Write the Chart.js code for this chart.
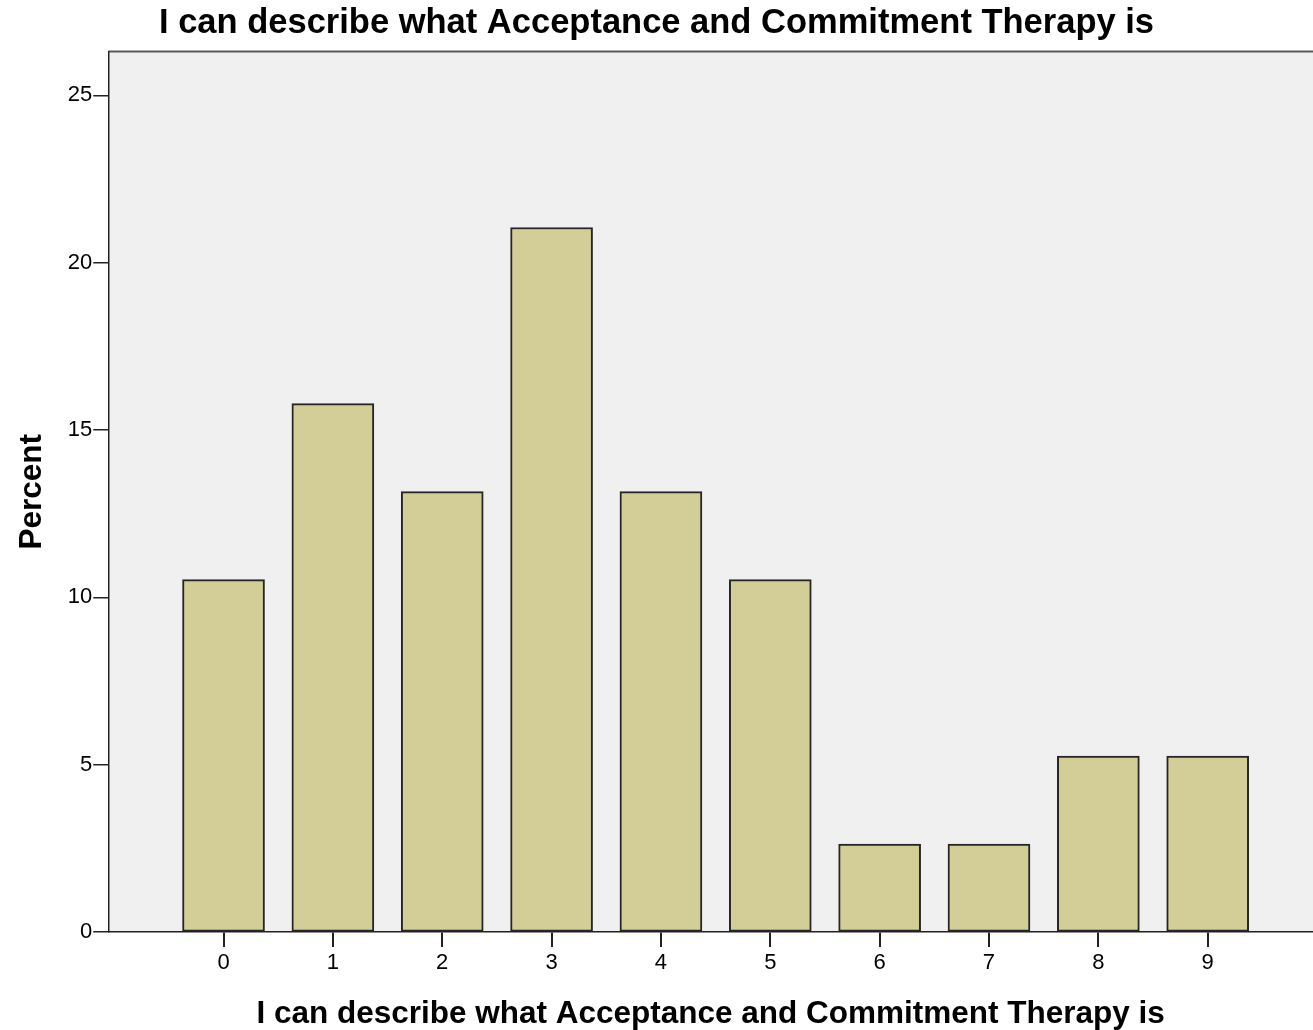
<!DOCTYPE html>
<html>
<head>
<meta charset="utf-8">
<script src="https://cdn.jsdelivr.net/npm/chart.js@4.4.1/dist/chart.umd.min.js"></script>
<style>
  html, body { margin: 0; padding: 0; background: #fff; }
  #wrap { width: 1313px; height: 1030px; }
</style>
</head>
<body>
<div id="wrap"><canvas id="chart"></canvas></div>
<script>
// Histogram-style bar chart: percent per response score
const TITLE = "I can describe what Acceptance and Commitment Therapy is";
const categories = [0, 1, 2, 3, 4, 5, 6, 7, 8, 9];
const percents = [10.53, 15.79, 13.16, 21.05, 13.16, 10.53, 2.63, 2.63, 5.26, 5.26];
const yTicks = [0, 5, 10, 15, 20, 25];

const FONT = "'Liberation Sans', Arial, sans-serif";

// plot background + top frame line
const frame = {
  id: "frame",
  beforeDraw(chart) {
    const { ctx, chartArea: a } = chart;
    ctx.save();
    ctx.fillStyle = "#f0f0f0";
    ctx.fillRect(a.left, a.top, a.right - a.left, a.bottom - a.top);
    ctx.strokeStyle = "#5a5a5a";
    ctx.lineWidth = 2;
    ctx.beginPath();
    ctx.moveTo(a.left, a.top);
    ctx.lineTo(a.right, a.top);
    ctx.stroke();
    ctx.restore();
  },
};

new Chart(document.getElementById("chart"), {
  type: "bar",
  data: {
    datasets: [{
      data: categories.map((c, i) => ({ x: c, y: percents[i] })),
      backgroundColor: "#d3ce97",
      borderColor: "#262626",
      borderWidth: 2,
      borderSkipped: false,
      barThickness: 82,
    }],
  },
  options: {
    responsive: true, maintainAspectRatio: false, animation: false,
    layout: { padding: 0 },
    plugins: {
      legend: { display: false },
      tooltip: { enabled: false },
      title: {
        display: true, text: TITLE, color: "#000",
        font: { family: FONT, size: 34.5, weight: "bold" },
        padding: { top: 3, bottom: 7 },
      },
    },
    scales: {
      x: {
        type: "linear", min: -1.054, max: 9.963, offset: false,
        afterBuildTicks: (s) => { s.ticks = categories.map((v) => ({ value: v })); },
        grid: { display: true, offset: false, drawOnChartArea: false, drawTicks: true, tickLength: 15, color: "#222", lineWidth: 2 },
        border: { display: true, color: "#222", width: 1.5 },
        ticks: { color: "#000", padding: 3, font: { family: FONT, size: 22 }, maxRotation: 0, autoSkip: false },
        title: {
          display: true, text: TITLE, color: "#000",
          font: { family: FONT, size: 31.5, weight: "bold", lineHeight: 1 },
          padding: { top: 19, bottom: 0 },
        },
      },
      y: {
        min: 0, max: 26.31,
        afterBuildTicks: (s) => { s.ticks = yTicks.map((v) => ({ value: v })); },
        grid: { display: true, drawOnChartArea: false, drawTicks: true, tickLength: 15, color: "#222", lineWidth: 1.5 },
        border: { display: true, color: "#222", width: 1.5 },
        ticks: { color: "#000", padding: 1, font: { family: FONT, size: 22 } },
        title: {
          display: true, text: "Percent", color: "#000",
          font: { family: FONT, size: 31.5, weight: "bold" },
          padding: { top: 13, bottom: 16 },
        },
      },
    },
  },
  plugins: [frame],
});
</script>
</body>
</html>
